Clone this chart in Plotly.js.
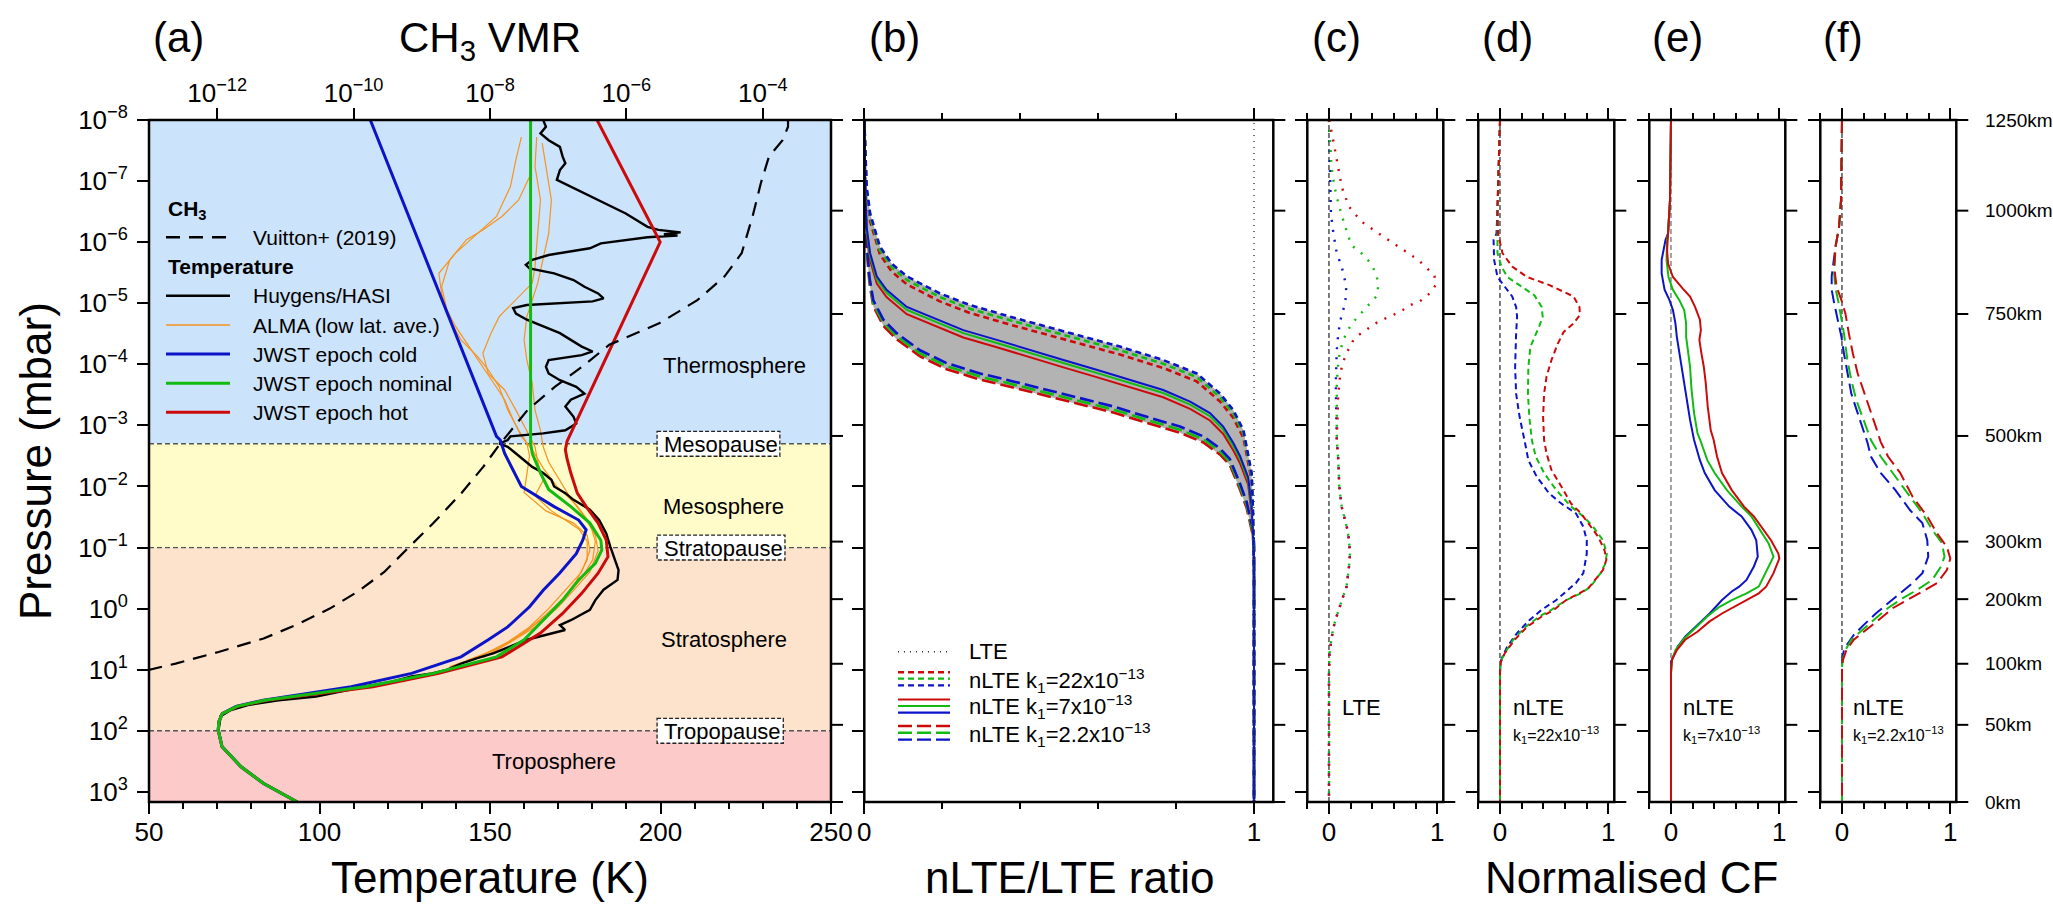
<!DOCTYPE html>
<html>
<head>
<meta charset="utf-8">
<script src="https://cdn.plot.ly/plotly-3.0.1.min.js"></script>
<style>
  html, body { margin: 0; padding: 0; background: #fff; }
  #chart { width: 2053px; height: 913px; }
</style>
</head>
<body>
<div id="chart"></div>
<script>
// ---------------------------------------------------------------
// Titan atmosphere: temperature / CH3 profiles, nLTE ratios and
// normalised contribution functions. Pressures are kept as log10(mbar).
// ---------------------------------------------------------------

// ----- (a) temperature profiles (K) vs log10 pressure (mbar) -----
const tempCold = [114.9,151.9,153.0,154.3,159.2,168.8,176.0,178.2,177.2,175.3,170.4,165.6,161.6,155.2,149.5,141.5,127.0,109.3,95.0,83.5,75.5,71.5,70.5,70.3,71.4,77.0,83.5,93.5];
const logPCold = [-8,-2.82,-2.76,-2.54,-2.0,-1.67,-1.45,-1.29,-1.12,-0.90,-0.58,-0.30,-0.03,0.30,0.51,0.79,1.06,1.28,1.40,1.50,1.60,1.72,1.85,1.99,2.26,2.59,2.86,3.1665];

const tempNominal = [161.9,161.9,162.4,164.8,167.2,173.7,179.3,182.5,182.8,180.9,176.0,171.3,165.6,160.0,151.9,133.4,113.3,97.5,84.0,75.8,71.5,70.5,70.3,71.4,77.0,83.5,93.5];
const logPNominal = [-8,-2.71,-2.54,-2.22,-1.95,-1.67,-1.40,-1.12,-0.96,-0.74,-0.47,-0.14,0.19,0.51,0.79,1.06,1.28,1.40,1.50,1.60,1.72,1.85,1.99,2.26,2.59,2.86,3.1665];

const tempHot = [181.4,199.9,172.6,172.1,172.6,173.7,175.6,178.2,181.7,184.1,184.6,181.7,176.9,171.3,164.8,161.6,153.5,135.0,115.7,99.0,84.5,76.0,71.5,70.5,70.3,71.4,77.0,83.5,93.5];
const logPHot = [-8,-6.0,-2.74,-2.60,-2.45,-2.22,-1.89,-1.67,-1.40,-1.12,-0.85,-0.58,-0.25,0.08,0.40,0.51,0.79,1.06,1.28,1.40,1.50,1.60,1.72,1.85,1.99,2.26,2.59,2.86,3.1665];

const tempHasi = [165.6,166.4,164.8,167.2,170.5,171.3,172.1,170.5,169.6,173.7,181.7,189.8,196.2,199.4,205.9,201.0,205.0,196.2,182.5,179.3,167.2,162.4,160.5,161.6,168.8,174.5,177.7,181.7,183.3,180.1,160.8,156.8,157.6,160.8,170.5,176.9,180.1,176.9,167.2,166.4,167.2,170.5,175.3,177.7,173.7,172.1,174.5,175.3,172.1,165.6,156.0,155.2,152.7,155.2,157.6,160.0,162.4,165.6,168.0,168.8,172.1,174.5,179.3,182.0,184.1,185.3,186.6,187.7,187.4,183.3,180.9,179.3,173.7,170.5,172.0,166.4,160.8,156.0,151.1,146.3,141.5,137.0,133.0,127.0,121.0,113.0,106.0,99.0,88.0,79.0,74.0,71.0,70.4,71.4,77.0,83.5,93.5];
const logPHasi = [-8,-7.89,-7.78,-7.67,-7.56,-7.40,-7.29,-7.18,-7.02,-6.91,-6.69,-6.47,-6.25,-6.20,-6.16,-6.13,-6.11,-6.08,-5.98,-5.90,-5.79,-5.71,-5.63,-5.57,-5.49,-5.38,-5.27,-5.16,-5.08,-5.03,-4.97,-4.92,-4.83,-4.73,-4.51,-4.29,-4.21,-4.15,-4.07,-3.96,-3.85,-3.74,-3.63,-3.52,-3.42,-3.31,-3.14,-3.03,-2.92,-2.87,-2.82,-2.76,-2.70,-2.65,-2.54,-2.43,-2.32,-2.22,-2.11,-2.00,-1.89,-1.78,-1.62,-1.45,-1.23,-1.01,-0.80,-0.63,-0.47,-0.31,-0.14,0.02,0.19,0.27,0.35,0.43,0.51,0.62,0.73,0.81,0.90,1.01,1.06,1.11,1.20,1.28,1.36,1.44,1.50,1.58,1.66,1.76,1.99,2.26,2.59,2.86,3.1665];

const tempAlma1 = [159.2,157.6,156.0,151.9,146.3,139.9,135.0,135.8,138.2,141.5,146.3,149.5,152.7,155.2,158.4,160.8,161.6,160.8,160.0,166.4,174.5,178.5,179.3,176.9,172.1,167.2,161.6,155.2,146.3,138.2];
const logPAlma1 = [-7.72,-7.35,-6.91,-6.42,-6.14,-5.82,-5.49,-5.16,-4.73,-4.40,-4.13,-3.91,-3.63,-3.25,-2.92,-2.71,-2.50,-2.20,-1.90,-1.60,-1.40,-1.20,-0.95,-0.60,-0.30,0.0,0.30,0.55,0.80,0.95];
const tempAlma2 = [161.6,158.4,153.5,147.9,143.1,138.2,135.8,137.4,139.9,144.7,147.9,151.1,154.3,156.8,159.2,162.4,165.6,169.6,175.3,179.3,180.9,180.1,176.9,172.1,166.4,160.0,152.7,143.1];
const logPAlma2 = [-7.07,-6.69,-6.42,-6.20,-6.04,-5.71,-5.27,-4.89,-4.62,-4.23,-3.96,-3.69,-3.42,-3.09,-2.82,-2.60,-2.30,-2.00,-1.70,-1.40,-1.10,-0.80,-0.50,-0.20,0.10,0.40,0.65,0.85];
const tempAlma3 = [163.7,163.2,164.8,164.0,163.2,162.4,157.6,152.7,150.3,147.9,149.5,154.3,157.6,160.8,163.2,164.0,165.6,163.2,168.0,172.1,176.1,178.5,178.5,175.3,170.5,164.8,158.4,150.3,141.5];
const logPAlma3 = [-7.72,-7.24,-6.69,-6.14,-5.60,-5.33,-5.05,-4.78,-4.51,-4.18,-3.85,-3.58,-3.25,-2.92,-2.65,-2.40,-2.10,-1.85,-1.60,-1.45,-1.30,-1.10,-0.80,-0.45,-0.10,0.20,0.45,0.70,0.90];
const tempAlma4 = [165.3,166.4,167.2,168.0,167.2,165.6,164.0,162.4,160.8,160.0,160.8,162.4,163.2,164.8,165.6,167.2,170.5,173.7,177.7,180.9,181.7,179.3,174.5,169.6,163.2,156.0,148.0];
const logPAlma4 = [-7.62,-7.24,-6.96,-6.69,-6.14,-5.71,-5.33,-5.05,-4.78,-4.40,-4.07,-3.69,-3.25,-2.92,-2.65,-2.40,-2.10,-1.80,-1.50,-1.20,-0.95,-0.60,-0.30,0.0,0.30,0.55,0.80];

// CH3 volume mixing ratio (Vuitton+ 2019), log10 VMR vs log10 pressure
const logVmrVuitton = [-13.01,-12.61,-11.98,-11.32,-10.85,-10.35,-9.95,-9.55,-9.23,-8.83,-8.42,-8.10,-7.85,-7.45,-7.05,-6.65,-6.25,-5.52,-4.96,-4.56,-4.31,-4.15,-4.03,-3.91,-3.71,-3.63,-3.63];
const logPVuitton = [1.005,0.90,0.71,0.49,0.27,0.0,-0.27,-0.60,-0.96,-1.40,-1.89,-2.32,-2.70,-3.25,-3.63,-3.96,-4.32,-4.67,-5.05,-5.44,-5.82,-6.42,-6.96,-7.40,-7.67,-7.89,-8.0];

// atmospheric layer boundaries (mbar) and names
const layerBoundsMbar = [1e-8, 0.002, 0.1, 100, 1467];
const layerNames = ['Thermosphere', 'Mesosphere', 'Stratosphere', 'Troposphere'];
const pauseNames = ['Mesopause', 'Stratopause', 'Tropopause'];

// ----- (b) nLTE/LTE ratio -----
const ratioK22 = [0,0.003,0.006,0.015,0.040,0.070,0.109,0.194,0.271,0.374,0.528,0.656,0.767,0.853,0.913,0.947,0.973,0.985,0.994,0.997,0.999,1.0,1.0];
const logPK22Blue  = [-8,-7.51,-6.91,-6.47,-5.93,-5.65,-5.44,-5.16,-4.97,-4.78,-4.51,-4.29,-4.07,-3.85,-3.52,-3.25,-2.92,-2.54,-2.22,-1.67,-1.12,-0.58,3.1665];
const logPK22Green = [-8,-7.45,-6.85,-6.41,-5.87,-5.59,-5.38,-5.10,-4.91,-4.72,-4.45,-4.23,-4.01,-3.79,-3.46,-3.19,-2.86,-2.48,-2.16,-1.61,-1.06,-0.52,3.1665];
const logPK22Red   = [-8,-7.38,-6.78,-6.34,-5.80,-5.52,-5.31,-5.03,-4.84,-4.65,-4.38,-4.16,-3.94,-3.72,-3.39,-3.12,-2.79,-2.41,-2.09,-1.54,-0.99,-0.45,3.1665];

const ratioK7 = [0,0.002,0.006,0.015,0.032,0.057,0.109,0.169,0.254,0.340,0.425,0.511,0.596,0.682,0.767,0.836,0.887,0.921,0.947,0.964,0.985,0.994,0.998,1.0,1.0];
const logPK7Blue  = [-8,-6.91,-6.25,-5.82,-5.44,-5.22,-4.94,-4.78,-4.56,-4.40,-4.23,-4.07,-3.91,-3.74,-3.58,-3.39,-3.20,-2.98,-2.71,-2.50,-2.15,-1.67,-1.23,-0.85,3.1665];
const logPK7Green = [-8,-6.86,-6.20,-5.77,-5.39,-5.17,-4.89,-4.73,-4.51,-4.35,-4.18,-4.02,-3.86,-3.69,-3.53,-3.34,-3.15,-2.93,-2.66,-2.45,-2.10,-1.62,-1.18,-0.80,3.1665];
const logPK7Red   = [-8,-6.79,-6.13,-5.70,-5.32,-5.10,-4.82,-4.66,-4.44,-4.28,-4.11,-3.95,-3.79,-3.62,-3.46,-3.27,-3.08,-2.86,-2.59,-2.38,-2.03,-1.55,-1.11,-0.73,3.1665];

const ratioK2 = [0,0.002,0.006,0.013,0.023,0.049,0.083,0.143,0.211,0.297,0.382,0.468,0.553,0.639,0.725,0.810,0.870,0.913,0.938,0.964,0.981,0.991,0.997,1.0,1.0];
const logPK2Blue  = [-8,-6.9,-6.0,-5.44,-5.05,-4.73,-4.51,-4.23,-4.02,-3.85,-3.72,-3.58,-3.44,-3.31,-3.14,-2.98,-2.82,-2.62,-2.45,-2.05,-1.75,-1.48,-1.30,-1.08,3.1665];
const logPK2Green = [-8,-6.85,-5.95,-5.39,-5.00,-4.68,-4.46,-4.18,-3.97,-3.80,-3.67,-3.53,-3.39,-3.26,-3.09,-2.93,-2.77,-2.57,-2.40,-2.00,-1.70,-1.43,-1.25,-1.03,3.1665];
const logPK2Red   = [-8,-6.8,-5.9,-5.34,-4.95,-4.63,-4.41,-4.13,-3.92,-3.75,-3.62,-3.48,-3.34,-3.21,-3.04,-2.88,-2.72,-2.52,-2.35,-1.95,-1.65,-1.38,-1.20,-0.98,3.1665];

// ----- (c) LTE contribution functions -----
const cfLteRed      = [0,0.027,0.072,0.117,0.185,0.297,0.477,0.658,0.824,0.905,0.973,0.986,0.928,0.838,0.748,0.658,0.554,0.455,0.365,0.275,0.216,0.171,0.131,0.104,0.086,0.077];
const logPLteRed    = [-8,-7.78,-7.35,-6.91,-6.58,-6.34,-6.12,-5.90,-5.71,-5.57,-5.46,-5.30,-5.16,-5.03,-4.97,-4.86,-4.78,-4.70,-4.59,-4.48,-4.37,-4.21,-4.04,-3.85,-3.50,-3.14];
const cfLteGreen    = [0,0.023,0.05,0.086,0.14,0.207,0.32,0.387,0.432,0.455,0.446,0.378,0.311,0.243,0.185,0.14,0.104,0.086,0.072,0.072];
const logPLteGreen  = [-8,-7.24,-6.91,-6.64,-6.31,-5.95,-5.79,-5.65,-5.49,-5.33,-5.13,-4.99,-4.86,-4.73,-4.59,-4.43,-4.23,-4.04,-3.69,-3.14];
const cfLteBlue     = [0,0.009,0.018,0.041,0.072,0.117,0.153,0.162,0.14,0.113,0.086,0.072,0.063,0.068];
const logPLteBlue   = [-8,-7.24,-6.47,-6.14,-5.82,-5.60,-5.33,-5.16,-4.94,-4.78,-4.51,-4.23,-3.69,-3.14];
// lower atmosphere, common to the three LTE profiles
const cfLteLower    = [0.072,0.086,0.095,0.117,0.149,0.171,0.185,0.194,0.185,0.162,0.131,0.095,0.059,0.036,0.018,0.005,0,0];
const logPLteLower  = [-2.76,-2.43,-2.0,-1.67,-1.45,-1.29,-1.12,-0.90,-0.69,-0.36,-0.20,-0.01,0.19,0.35,0.54,0.73,1.06,3.1665];

// ----- (d) nLTE k1 = 22e-13 -----
const cfK22Red    = [0,-0.009,-0.023,-0.018,0.023,0.113,0.249,0.452,0.588,0.679,0.733,0.738,0.679,0.588,0.534,0.475,0.430,0.407,0.398,0.407,0.430,0.475,0.566,0.656,0.747,0.814,0.905,0.964,0.982,0.950,0.882,0.814,0.701,0.611,0.498,0.385,0.249,0.136,0.045,0.009,0,0];
const logPCfK22Red = [-8,-7.24,-6.58,-6.14,-5.82,-5.60,-5.43,-5.30,-5.19,-5.11,-4.94,-4.81,-4.67,-4.53,-4.34,-4.07,-3.80,-3.52,-3.14,-2.76,-2.54,-2.27,-2.0,-1.72,-1.56,-1.40,-1.18,-0.96,-0.80,-0.63,-0.47,-0.33,-0.22,-0.14,0.02,0.13,0.30,0.51,0.73,0.87,1.06,3.1665];
const cfK22Green  = [0,-0.009,-0.023,-0.023,0.014,0.068,0.204,0.317,0.385,0.394,0.362,0.317,0.281,0.262,0.258,0.271,0.294,0.330,0.407,0.520,0.656,0.769,0.860,0.950,0.986,0.973,0.928,0.837,0.747,0.611,0.475,0.362,0.235,0.122,0.045,0.005,0,0];
const logPCfK22Green = [-8,-7.24,-6.42,-5.82,-5.60,-5.43,-5.27,-5.13,-4.94,-4.78,-4.62,-4.45,-4.29,-3.96,-3.52,-3.14,-2.76,-2.49,-2.22,-1.94,-1.67,-1.51,-1.34,-1.12,-0.90,-0.74,-0.58,-0.36,-0.25,-0.14,0.02,0.13,0.30,0.51,0.73,0.87,1.06,3.1665];
const cfK22Blue   = [0,-0.009,-0.023,-0.032,-0.059,-0.054,-0.023,0.045,0.113,0.149,0.158,0.149,0.140,0.149,0.181,0.226,0.262,0.339,0.452,0.566,0.701,0.769,0.801,0.801,0.769,0.701,0.611,0.520,0.385,0.271,0.158,0.068,0.023,0.005,0,0];
const logPCfK22Blue = [-8,-7.24,-6.58,-6.14,-6.04,-5.71,-5.43,-5.27,-5.11,-4.94,-4.78,-4.51,-3.96,-3.52,-3.14,-2.76,-2.43,-2.16,-1.89,-1.72,-1.56,-1.34,-1.12,-0.90,-0.58,-0.42,-0.28,-0.14,0.02,0.19,0.40,0.62,0.79,0.87,1.06,3.1665];

// ----- (e) nLTE k1 = 7e-13 -----
const cfK7Red     = [0,-0.005,-0.009,-0.027,-0.036,-0.027,0.018,0.109,0.176,0.222,0.267,0.276,0.262,0.281,0.303,0.321,0.339,0.367,0.394,0.425,0.471,0.561,0.674,0.765,0.833,0.923,0.991,1.0,0.946,0.878,0.810,0.697,0.584,0.471,0.357,0.244,0.131,0.054,0.009,0,0];
const logPCfK7Red = [-8,-7.2,-6.69,-6.14,-5.87,-5.65,-5.43,-5.24,-5.11,-4.94,-4.73,-4.56,-4.40,-4.18,-3.96,-3.69,-3.31,-2.92,-2.76,-2.49,-2.22,-1.94,-1.67,-1.51,-1.34,-1.12,-0.90,-0.82,-0.58,-0.36,-0.25,-0.14,-0.03,0.08,0.21,0.38,0.51,0.68,0.84,1.06,3.1665];
const cfK7Green   = [0,-0.005,-0.009,-0.027,-0.036,-0.041,-0.023,0.018,0.077,0.122,0.140,0.140,0.154,0.176,0.190,0.213,0.245,0.270,0.335,0.403,0.516,0.652,0.742,0.819,0.900,0.946,0.900,0.810,0.697,0.561,0.448,0.335,0.222,0.122,0.041,0.009,0,0];
const logPCfK7Green = [-8,-7.2,-6.69,-6.14,-6.04,-5.71,-5.43,-5.22,-5.05,-4.89,-4.67,-4.45,-4.23,-3.96,-3.58,-3.20,-2.87,-2.76,-2.43,-2.22,-1.94,-1.67,-1.51,-1.29,-1.07,-0.85,-0.69,-0.36,-0.25,-0.14,-0.03,0.13,0.32,0.49,0.68,0.84,1.06,3.1665];
const cfK7Blue    = [0,-0.005,-0.009,-0.027,-0.050,-0.086,-0.086,-0.059,-0.014,0.018,0.041,0.054,0.077,0.109,0.140,0.176,0.213,0.240,0.267,0.312,0.403,0.538,0.652,0.742,0.787,0.801,0.765,0.697,0.629,0.561,0.471,0.357,0.244,0.131,0.063,0.018,0,0];
const logPCfK7Blue = [-8,-7.2,-6.69,-6.14,-6.04,-5.71,-5.49,-5.22,-5.05,-4.89,-4.67,-4.45,-4.18,-3.85,-3.52,-3.09,-2.76,-2.60,-2.43,-2.22,-1.94,-1.67,-1.51,-1.29,-1.12,-0.85,-0.69,-0.47,-0.36,-0.28,-0.14,0.08,0.27,0.46,0.62,0.79,0.87,3.1665];

// ----- (f) nLTE k1 = 2.2e-13 -----
const cfK2Red     = [0,-0.005,-0.009,-0.027,-0.059,-0.072,-0.050,-0.005,0.032,0.063,0.100,0.145,0.199,0.253,0.312,0.357,0.425,0.538,0.652,0.787,0.878,0.968,1.0,0.968,0.878,0.742,0.606,0.471,0.335,0.199,0.109,0.041,0.009,0,0];
const logPCfK2Red = [-8,-7.2,-6.69,-6.25,-5.93,-5.60,-5.27,-5.05,-4.83,-4.51,-4.18,-3.85,-3.58,-3.31,-2.98,-2.73,-2.49,-2.22,-1.83,-1.51,-1.23,-1.01,-0.82,-0.63,-0.42,-0.28,-0.14,-0.01,0.19,0.38,0.51,0.68,0.84,1.0,3.1665];
const cfK2Green   = [0,-0.005,-0.009,-0.027,-0.059,-0.072,-0.063,-0.036,-0.009,0.018,0.050,0.086,0.131,0.199,0.267,0.357,0.471,0.606,0.742,0.833,0.923,0.946,0.914,0.833,0.697,0.561,0.425,0.290,0.163,0.086,0.032,0.005,0,0];
const logPCfK2Green = [-8,-7.2,-6.69,-6.25,-5.93,-5.49,-5.27,-5.05,-4.78,-4.51,-4.07,-3.74,-3.42,-3.09,-2.76,-2.49,-2.22,-1.89,-1.56,-1.29,-1.07,-0.85,-0.69,-0.47,-0.31,-0.17,-0.01,0.19,0.38,0.51,0.68,0.84,1.0,3.1665];
const cfK2Blue    = [0,-0.005,-0.009,-0.027,-0.059,-0.095,-0.095,-0.072,-0.036,-0.005,0.018,0.050,0.086,0.145,0.208,0.235,0.267,0.357,0.493,0.629,0.742,0.787,0.796,0.742,0.652,0.538,0.425,0.312,0.199,0.109,0.054,0.018,0,0];
const logPCfK2Blue = [-8,-7.2,-6.69,-6.25,-5.93,-5.44,-5.22,-5.0,-4.73,-4.45,-4.18,-3.85,-3.52,-3.20,-2.87,-2.72,-2.49,-2.22,-1.94,-1.61,-1.40,-1.12,-0.85,-0.58,-0.42,-0.25,-0.09,0.08,0.27,0.43,0.57,0.68,0.84,3.1665];

// ----- axis ticks -----
const pressureTickVals = [1e-8,1e-7,1e-6,1e-5,1e-4,1e-3,1e-2,1e-1,1e0,1e1,1e2,1e3];
const pressureTickText = ['10<sup>−8</sup>','10<sup>−7</sup>','10<sup>−6</sup>','10<sup>−5</sup>','10<sup>−4</sup>','10<sup>−3</sup>','10<sup>−2</sup>','10<sup>−1</sup>','10<sup>0</sup>','10<sup>1</sup>','10<sup>2</sup>','10<sup>3</sup>'];
const altitudeKm   = [1250, 1000, 750, 500, 300, 200, 100, 50, 0];
const altitudeMbar = [1e-8, 3.05e-7, 1.5e-5, 1.49e-3, 0.080, 0.70, 8.0, 80, 1467];
const vmrLabelVals = [1e-12, 1e-10, 1e-8, 1e-6, 1e-4];
const vmrLabelText = ['10<sup>−12</sup>','10<sup>−10</sup>','10<sup>−8</sup>','10<sup>−6</sup>','10<sup>−4</sup>'];
const vmrOddDecades = [1e-13, 1e-11, 1e-9, 1e-7, 1e-5, 1e-3];

// ---------------------------------------------------------------
const W = 2053, H = 913;
const FONT = 'Liberation Sans, Arial, Helvetica, sans-serif';
const TOP = 120, BOTTOM = 802;
const P_SURF = 1467;
const toP = v => Math.pow(10, v);
const BLUE = '#0b14c8', GREEN = '#12bb12', RED = '#cc0a0a', ORANGE = '#f7931e';

const panels = {
  a: [149, 831], b: [864.3, 1273.3], c: [1307.3, 1443.3],
  d: [1478.3, 1614.3], e: [1649.3, 1785.3], f: [1820.3, 1956.3]
};
const yDom = [(H - BOTTOM) / H, (H - TOP) / H];
const xDom = k => [panels[k][0] / W, panels[k][1] / W];

function line(x, logp, xa, ya, color, width, dash) {
  return { type: 'scatter', mode: 'lines', x: x, y: logp.map(toP), xaxis: xa, yaxis: ya,
           line: { color: color, width: width, dash: dash || 'solid' },
           hoverinfo: 'skip', showlegend: false };
}

const traces = [];
// (a)
[[tempAlma1, logPAlma1],[tempAlma2, logPAlma2],[tempAlma3, logPAlma3],[tempAlma4, logPAlma4]]
  .forEach(([t, p]) => traces.push(line(t, p, 'x', 'y', ORANGE, 1.2)));
traces.push(line(logVmrVuitton.map(toP), logPVuitton, 'x2', 'y', '#000', 2.2, '14px,9px'));
traces.push(line(tempHasi, logPHasi, 'x', 'y', '#000', 2.4));
traces.push(line(tempCold, logPCold, 'x', 'y', BLUE, 3));
traces.push(line(tempHot, logPHot, 'x', 'y', RED, 3));
traces.push(line(tempNominal, logPNominal, 'x', 'y', GREEN, 3));

// (b) grey envelope between the outermost profiles
traces.push({ type: 'scatter', mode: 'lines', xaxis: 'x4', yaxis: 'y3',
  x: ratioK22.concat(ratioK2.slice().reverse()),
  y: logPK22Blue.concat(logPK2Red.slice().reverse()).map(toP),
  fill: 'toself', fillcolor: '#b3b3b3', line: { width: 0 }, hoverinfo: 'skip', showlegend: false });
const SHORT = '6px,4px', LONG = '14px,5px';
traces.push(line(ratioK2, logPK2Red, 'x4', 'y3', RED, 2.6, LONG));
traces.push(line(ratioK2, logPK2Green, 'x4', 'y3', GREEN, 2.6, LONG));
traces.push(line(ratioK2, logPK2Blue, 'x4', 'y3', BLUE, 2.6, LONG));
traces.push(line(ratioK7, logPK7Red, 'x4', 'y3', RED, 2));
traces.push(line(ratioK7, logPK7Green, 'x4', 'y3', GREEN, 2));
traces.push(line(ratioK7, logPK7Blue, 'x4', 'y3', BLUE, 2));
traces.push(line(ratioK22, logPK22Red, 'x4', 'y3', RED, 2.6, SHORT));
traces.push(line(ratioK22, logPK22Green, 'x4', 'y3', GREEN, 2.6, SHORT));
traces.push(line(ratioK22, logPK22Blue, 'x4', 'y3', BLUE, 2.6, SHORT));

// (c)
const DOT = '2px,8px';
traces.push(line(cfLteBlue.concat(cfLteLower), logPLteBlue.concat(logPLteLower), 'x5', 'y5', BLUE, 2.4, DOT));
traces.push(line(cfLteGreen.concat(cfLteLower), logPLteGreen.concat(logPLteLower), 'x5', 'y5', GREEN, 2.4, DOT));
traces.push(line(cfLteRed.concat(cfLteLower), logPLteRed.concat(logPLteLower), 'x5', 'y5', RED, 2.4, DOT));
// (d)
traces.push(line(cfK22Blue, logPCfK22Blue, 'x6', 'y7', BLUE, 2, SHORT));
traces.push(line(cfK22Green, logPCfK22Green, 'x6', 'y7', GREEN, 2, SHORT));
traces.push(line(cfK22Red, logPCfK22Red, 'x6', 'y7', RED, 2, SHORT));
// (e)
traces.push(line(cfK7Blue, logPCfK7Blue, 'x7', 'y9', BLUE, 2));
traces.push(line(cfK7Green, logPCfK7Green, 'x7', 'y9', GREEN, 2));
traces.push(line(cfK7Red, logPCfK7Red, 'x7', 'y9', RED, 2));
// (f)
traces.push(line(cfK2Blue, logPCfK2Blue, 'x8', 'y11', BLUE, 2, '13px,6px'));
traces.push(line(cfK2Green, logPCfK2Green, 'x8', 'y11', GREEN, 2, '13px,6px'));
traces.push(line(cfK2Red, logPCfK2Red, 'x8', 'y11', RED, 2, '13px,6px'));

// ---------------- axes ----------------
const tickFont = { family: FONT, size: 26, color: '#000' };
const pRange = [Math.log10(P_SURF), -8];
function pressureAxis(anchor, labels) {
  const ax = { type: 'log', range: pRange, domain: yDom, anchor: anchor,
    tickmode: 'array', tickvals: pressureTickVals,
    showticklabels: labels, ticks: 'outside', ticklen: 11, tickwidth: 2, tickcolor: '#000',
    tickfont: tickFont, showgrid: false, zeroline: false, showline: false, ticklabelstandoff: 4 };
  if (labels) ax.ticktext = pressureTickText;
  return ax;
}
function cfAxis(k, anchor, range) {
  return { domain: xDom(k), anchor: anchor, range: range, tickmode: 'array', tickvals: [0, 1], ticktext: ['0', '1'],
    ticks: 'outside', ticklen: 11, tickwidth: 2, tickcolor: '#000', mirror: 'ticks',
    minor: { ticks: 'outside', tick0: 0, dtick: 0.2, ticklen: 6, tickwidth: 2, tickcolor: '#000', showgrid: false },
    tickfont: tickFont, showgrid: false, zeroline: false, showline: false, ticklabelstandoff: -4 };
}
function vmrTicks(vals, len) {
  return { type: 'log', overlaying: 'x', side: 'top', anchor: 'y', range: [-13, -3],
    tickmode: 'array', tickvals: vals, showticklabels: false, ticks: 'outside', ticklen: len,
    tickwidth: 2, tickcolor: '#000', showgrid: false, zeroline: false, showline: false };
}

const layout = {
  width: W, height: H, margin: { l: 0, r: 0, t: 0, b: 0 },
  paper_bgcolor: '#fff', plot_bgcolor: 'rgba(0,0,0,0)', showlegend: false,
  xaxis: { domain: xDom('a'), anchor: 'y', range: [50, 250], tickmode: 'linear', tick0: 50, dtick: 50,
    ticks: 'outside', ticklen: 11, tickwidth: 2, tickcolor: '#000',
    minor: { ticks: 'outside', tick0: 50, dtick: 10, ticklen: 6, tickwidth: 2, tickcolor: '#000', showgrid: false },
    tickfont: tickFont, showgrid: false, zeroline: false, showline: false, ticklabelstandoff: -4 },
  xaxis2: { type: 'log', overlaying: 'x', side: 'top', anchor: 'y', range: [-13, -3],
    tickmode: 'array', tickvals: vmrLabelVals, ticktext: vmrLabelText,
    ticks: 'outside', ticklen: 11, tickwidth: 2, tickcolor: '#000', tickfont: tickFont,
    showgrid: false, zeroline: false, showline: false, ticklabelstandoff: -4 },
  xaxis3: vmrTicks(Array.from({ length: 21 }, (_, i) => Math.pow(10, -13 + i * 0.5)), 6),
  xaxis9: vmrTicks(vmrOddDecades, 11),
  yaxis: pressureAxis('x', true),
  xaxis4: cfAxis('b', 'y3', [0, 1.0495]),
  yaxis3: pressureAxis('x4', false),
  xaxis5: cfAxis('c', 'y5', [-0.2, 1.055]),
  yaxis5: pressureAxis('x5', false),
  xaxis6: cfAxis('d', 'y7', [-0.2, 1.055]),
  yaxis7: pressureAxis('x6', false),
  xaxis7: cfAxis('e', 'y9', [-0.2, 1.055]),
  yaxis9: pressureAxis('x7', false),
  xaxis8: cfAxis('f', 'y11', [-0.2, 1.055]),
  yaxis11: pressureAxis('x8', false),
  shapes: [], annotations: []
};

// ---------------- shapes ----------------
const S = layout.shapes;
const layerColors = ['#cbe4fb', '#fffcc9', '#fde3cb', '#fdcaca'];
for (let i = 0; i < 4; i++) {
  S.push({ type: 'rect', xref: 'x domain', x0: 0, x1: 1, yref: 'y',
    y0: layerBoundsMbar[i], y1: layerBoundsMbar[i + 1],
    fillcolor: layerColors[i], line: { width: 0 }, layer: 'below' });
}
for (let i = 1; i < 4; i++) {
  S.push({ type: 'line', xref: 'x domain', x0: 0, x1: 1, yref: 'y',
    y0: layerBoundsMbar[i], y1: layerBoundsMbar[i],
    line: { color: '#555', width: 1.3, dash: '5px,3px' }, layer: 'below' });
}
// boxed boundary labels
const pauseBoxW = [36.0, 37.5, 37.0];
for (let i = 0; i < 3; i++) {
  const p = layerBoundsMbar[i + 1];
  S.push({ type: 'rect', xref: 'x', x0: 199, x1: 199 + pauseBoxW[i], yref: 'y', y0: p / 1.6, y1: p * 1.6,
    fillcolor: '#fff', line: { color: '#222', width: 1.3, dash: '4px,2px' }, layer: 'above' });
}
// zero lines in CF panels, LTE reference in (b)
[['x5', 'y5'], ['x6', 'y7'], ['x7', 'y9'], ['x8', 'y11']].forEach(([xa, ya], i) => {
  S.push({ type: 'line', xref: xa, x0: 0, x1: 0, yref: ya + ' domain', y0: 0, y1: 1,
    line: { color: i === 2 ? '#666' : '#222', width: 1.2, dash: '5px,3px' }, layer: 'below' });
});
S.push({ type: 'line', xref: 'x4', x0: 1, x1: 1, yref: 'y3 domain', y0: 0, y1: 1,
  line: { color: '#444', width: 1.5, dash: '1px,5px' }, layer: 'below' });
// panel frames
[['x', 'y'], ['x4', 'y3'], ['x5', 'y5'], ['x6', 'y7'], ['x7', 'y9'], ['x8', 'y11']].forEach(([xa, ya]) => {
  S.push({ type: 'rect', xref: xa + ' domain', x0: 0, x1: 1, yref: ya + ' domain', y0: 0, y1: 1,
    line: { color: '#000', width: 2.5 }, fillcolor: 'rgba(0,0,0,0)', layer: 'above' });
});
// paper pixel helpers
const px = v => v / W, py = v => 1 - v / H;
// pixel row of a pressure level on the shared log pressure scale
const pressureRow = p => TOP + (Math.log10(p) + 8) / (Math.log10(P_SURF) + 8) * (BOTTOM - TOP);
function seg(x0, x1, y, color, width, dash) {
  S.push({ type: 'line', xref: 'paper', yref: 'paper', x0: px(x0), x1: px(x1), y0: py(y), y1: py(y),
    line: { color: color, width: width, dash: dash || 'solid' } });
}
// altitude ticks on the right edge of every panel
Object.keys(panels).forEach(k => {
  const xr = panels[k][1];
  altitudeMbar.forEach(p => seg(xr, xr + 12, pressureRow(p), '#000', 2));
});
// legend swatches
seg(166, 230, 237.3, '#000', 2.5, '14px,9px');
seg(166, 230, 295.7, '#000', 2.5);
seg(166, 230, 325, ORANGE, 1.3);
seg(166, 230, 354, BLUE, 3);
seg(166, 230, 383.3, GREEN, 3);
seg(166, 230, 412.3, RED, 3);
// (b) legend
seg(898, 950, 651.7, '#333', 1.5, '1px,5px');
seg(898, 950, 672.3, RED, 2.4, SHORT); seg(898, 950, 678.6, GREEN, 2.4, SHORT); seg(898, 950, 685.4, BLUE, 2.4, SHORT);
seg(898, 950, 699.5, RED, 2.2); seg(898, 950, 706, GREEN, 2.2); seg(898, 950, 712.6, BLUE, 2.2);
seg(898, 950, 726, RED, 2.4, LONG); seg(898, 950, 732.8, GREEN, 2.4, LONG); seg(898, 950, 739.6, BLUE, 2.4, LONG);

// ---------------- text ----------------
const A = layout.annotations;
function txt(text, x, y, size, xanchor, extra) {
  A.push(Object.assign({ text: text, xref: 'paper', yref: 'paper', x: px(x), y: py(y), showarrow: false,
    xanchor: xanchor || 'center', yanchor: 'middle', font: { family: FONT, size: size, color: '#000' } }, extra || {}));
}
// altitude labels on the far right
altitudeKm.forEach((km, i) => txt(km + 'km', 1983, pressureRow(altitudeMbar[i]), 19, 'left'));

txt('(a)', 151, 38, 42, 'left');
txt('(b)', 867, 38, 42, 'left');
txt('(c)', 1310, 38, 42, 'left');
txt('(d)', 1480, 38, 42, 'left');
txt('(e)', 1650, 38, 42, 'left');
txt('(f)', 1821, 38, 42, 'left');
txt('CH<sub>3</sub> VMR', 490, 40, 42);
txt('Temperature (K)', 490, 877, 44);
txt('nLTE/LTE ratio', 1069, 877, 44);
txt('Normalised CF', 1631, 877, 44);
txt('Pressure (mbar)', 35, 461, 44, 'center', { textangle: -90 });

// layer names
txt(layerNames[0], 734, 366, 22);
txt(layerNames[1], 723, 506, 22);
txt(layerNames[2], 724, 639, 22);
txt(layerNames[3], 554, 761, 22);
txt(pauseNames[0], 662, 444, 22, 'left');
txt(pauseNames[1], 662, 548, 22, 'left');
txt(pauseNames[2], 662, 731, 22, 'left');

// (a) legend
txt('<b>CH<sub>3</sub></b>', 166, 210, 21, 'left');
txt('Vuitton+ (2019)', 251, 237.3, 21, 'left');
txt('<b>Temperature</b>', 166, 266.7, 21, 'left');
txt('Huygens/HASI', 251, 295.7, 21, 'left');
txt('ALMA (low lat. ave.)', 251, 325, 21, 'left');
txt('JWST epoch cold', 251, 354, 21, 'left');
txt('JWST epoch nominal', 251, 383.3, 21, 'left');
txt('JWST epoch hot', 251, 412.3, 21, 'left');

// (b) legend
txt('LTE', 967, 651.7, 22, 'left');
txt('nLTE k<sub>1</sub>=22x10<sup>−13</sup>', 967, 680, 22, 'left');
txt('nLTE k<sub>1</sub>=7x10<sup>−13</sup>', 967, 706.5, 22, 'left');
txt('nLTE k<sub>1</sub>=2.2x10<sup>−13</sup>', 967, 734, 22, 'left');

// CF panel labels
txt('LTE', 1340, 707, 22, 'left');
txt('nLTE', 1511, 707, 22, 'left');
txt('k<sub>1</sub>=22x10<sup>−13</sup>', 1511, 735, 16, 'left');
txt('nLTE', 1681, 707, 22, 'left');
txt('k<sub>1</sub>=7x10<sup>−13</sup>', 1681, 735, 16, 'left');
txt('nLTE', 1851, 707, 22, 'left');
txt('k<sub>1</sub>=2.2x10<sup>−13</sup>', 1851, 735, 16, 'left');

Plotly.newPlot('chart', traces, layout, { staticPlot: true, displayModeBar: false });
</script>
</body>
</html>
